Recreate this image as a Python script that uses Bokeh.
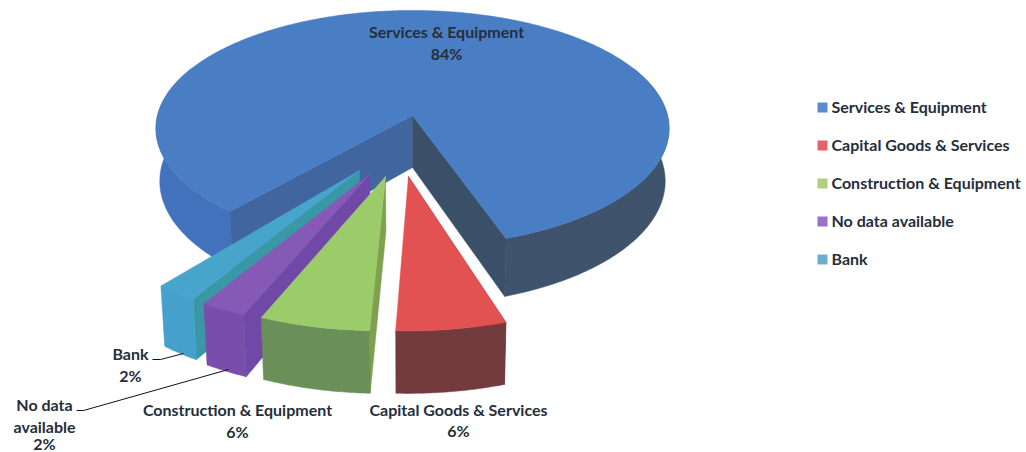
import numpy as np
from bokeh.plotting import figure
from bokeh.models import Range1d
from bokeh.core.properties import value
from bokeh.embed import file_html
from bokeh.resources import INLINE

# ---- data ----
categories = ["Services & Equipment", "Capital Goods & Services", "Construction & Equipment", "No data available", "Bank"]
# values; the printed labels are rounded
shares = [84.2, 5.61, 5.64, 2.36, 2.17]
top_colors = ["#4a7ec4", "#e35252", "#9ccb69", "#8659b6", "#47a5cc"]
side_colors = ["#4272bb", "#733b3e", "#6a8f58", "#794dab", "#46a0cc"]
wall_colors = ["#3a4f68", "#733b3e", "#7ea04f", "#6f48a8", "#3a98a6"]
legend_colors = ["#5b8bd0", "#e8606a", "#aed081", "#9a70c8", "#6aaed0"]
# exploded offset of each slice on the pie's plane, in radii
explode_x = [0.0, -0.015, -0.10, -0.159, -0.198]
explode_y = [0.0, 0.495, 0.495, 0.479, 0.449]
radius = [1.0, 1.04, 1.04, 1.04, 1.04]

# ---- projection (pixel layout) ----
CX, CY, A, B, K, DEPTH, ZS = 412.0, 115.0, 255.0, 116.6, 0.11, 52.0, 0.985
START = 72.0
MAIN_GAP_L = 2.2
MAIN_GAP_R = 1.2
TEXT = "#252e3b"
FONT = value("Lato")


def proj(X, Y, low=False):
    X, Y = np.asarray(X, float), np.asarray(Y, float)
    s = 1.0 / (1.0 - K * Y)
    sx, sy = A * X * s, B * Y * s
    if low:
        return CX + sx * ZS, CY + sy + DEPTH * s
    return CX + sx, CY + sy


def arc(i, t0, t1, low=False):
    t = np.radians(np.linspace(t0, t1, max(4, int(abs(t1 - t0)) * 2)))
    return proj(explode_x[i] + radius[i] * np.cos(t), explode_y[i] + radius[i] * np.sin(t), low)


xs, ys, fills = [], [], []


def add(x, y, c):
    xs.append(list(map(float, x)))
    ys.append(list(map(float, y)))
    fills.append(c)


def outer(i, t0, t1, c):
    x0, y0 = arc(i, t0, t1)
    x1, y1 = arc(i, t0, t1, True)
    add(np.r_[x0, x1[::-1]], np.r_[y0, y1[::-1]], c)


def wall(i, t, c):
    ax, ay = proj(explode_x[i], explode_y[i])
    bx, by = proj(explode_x[i], explode_y[i], True)
    px, py = arc(i, t, t + 1)
    qx, qy = arc(i, t, t + 1, True)
    add([ax, px[0], qx[0], bx], [ay, py[0], qy[0], by], c)


total = sum(shares)
deg = [360.0 * v / total for v in shares]
t0_main = START + sum(deg[1:]) + MAIN_GAP_L
t_right = START - MAIN_GAP_R
t1_main = t_right + 360.0

# main pie
outer(0, -25, t_right, "#3f546c")
outer(0, t0_main, 205, side_colors[0])
wall(0, t0_main, "#41659e")
wall(0, t_right, wall_colors[0])
mx, my = arc(0, t0_main, t1_main)
ax, ay = proj(0, 0)
add(np.r_[ax, mx], np.r_[ay, my], top_colors[0])

# exploded slices, back to front
for i in range(len(shares) - 1, 0, -1):
    a = START + sum(deg[1:i])
    b = a + deg[i]
    wall(i, a, wall_colors[i])
    outer(i, a, b, side_colors[i])
    tx, ty = arc(i, a, b)
    ax, ay = proj(explode_x[i], explode_y[i])
    add(np.r_[ax, tx], np.r_[ay, ty], top_colors[i])

p = figure(width=1026, height=452, x_range=Range1d(0, 1026), y_range=Range1d(452, 0),
           output_backend="svg", toolbar_location=None, min_border=0)
p.axis.visible = False
p.grid.visible = False
p.outline_line_color = None
p.background_fill_color = "white"
p.border_fill_color = "white"

p.patches(xs, ys, fill_color=fills, line_color=fills, line_width=0.5)

# leader lines
p.line([152, 160, 183], [359, 359, 353], line_color="#111111", line_width=1)
p.line([76, 83, 228], [410, 410, 369], line_color="#111111", line_width=1)

# data labels
lab_x = [446, 446, 458, 458, 237, 237, 130, 130, 44, 44, 44]
lab_y = [31, 53, 409, 430, 409, 431, 353, 375, 404, 426, 443]
lab_t = ["Services & Equipment", "84%", "Capital Goods & Services", "6%", "Construction & Equipment", "6%",
         "Bank", "2%", "No data", "available", "2%"]
p.text(lab_x, lab_y, text=lab_t, text_align="center", text_baseline="middle",
       text_font=FONT, text_font_size="16px", text_font_style="bold", text_color=TEXT)

# legend
leg_x = [822] * 5
leg_y = [107, 145, 183, 221, 259]
p.scatter(leg_x, leg_y, marker="square", size=10, fill_color=legend_colors, line_color=None)
p.text([831] * 5, [y - 1 for y in leg_y], text=categories, text_align="left", text_baseline="middle",
       text_font=FONT, text_font_size="16px", text_font_style="bold", text_color=TEXT)

open("out.html", "w").write(file_html(p, INLINE))
